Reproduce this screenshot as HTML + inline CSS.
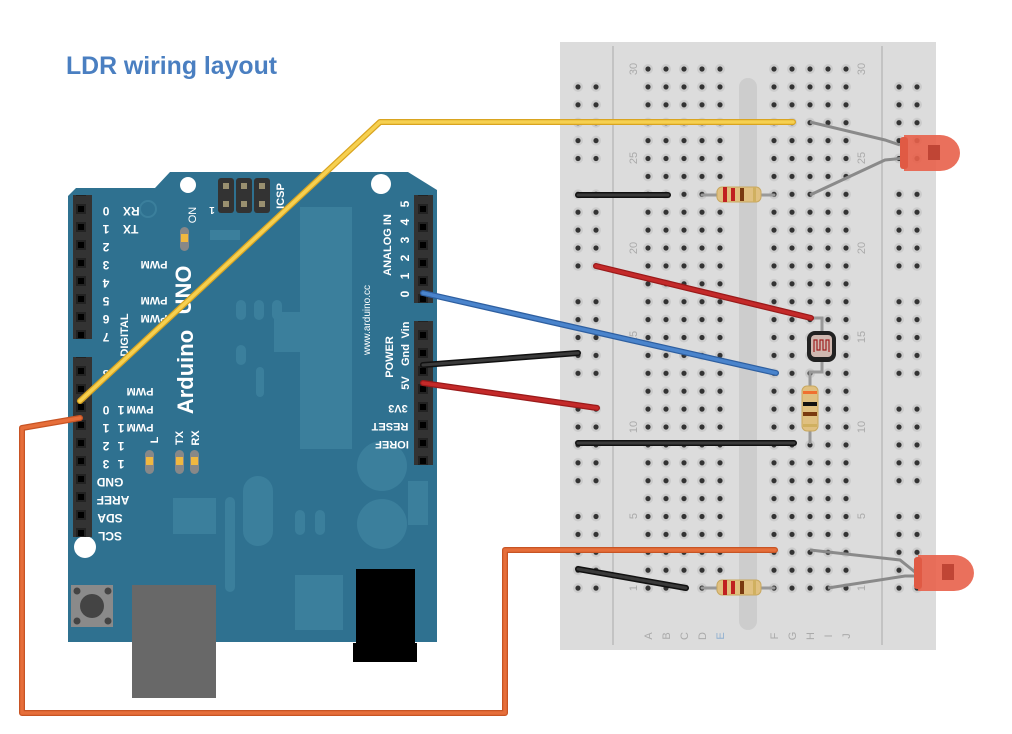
<!DOCTYPE html>
<html><head><meta charset="utf-8"><style>
html,body{margin:0;padding:0;background:#fff;}
svg{display:block;}
text{font-family:"Liberation Sans",Arial,sans-serif;}
</style></head><body>
<svg width="1012" height="734" viewBox="0 0 1012 734" xmlns="http://www.w3.org/2000/svg">
<defs>
<pattern id="hm" patternUnits="userSpaceOnUse" x="639" y="60.05" width="18" height="17.9">
 <circle cx="9" cy="8.95" r="5" fill="#cbcbcb"/><circle cx="9" cy="8.95" r="2.6" fill="#333"/>
</pattern>
<pattern id="hl" patternUnits="userSpaceOnUse" x="569" y="60.05" width="18" height="17.9">
 <circle cx="9" cy="8.95" r="5" fill="#cbcbcb"/><circle cx="9" cy="8.95" r="2.6" fill="#333"/>
</pattern>
<pattern id="hr" patternUnits="userSpaceOnUse" x="890" y="60.05" width="18" height="17.9">
 <circle cx="9" cy="8.95" r="5" fill="#cbcbcb"/><circle cx="9" cy="8.95" r="2.6" fill="#333"/>
</pattern>
<pattern id="pin" patternUnits="userSpaceOnUse" x="0" y="2" width="18" height="18">
 <rect x="0" y="0" width="18" height="18" fill="#333"/><rect x="4" y="4" width="10" height="10" fill="#222"/><rect x="6" y="6" width="6" height="6" fill="#000"/>
</pattern>
</defs>

<text x="66" y="74" font-size="25" font-weight="bold" fill="#4a7fc1" textLength="211" lengthAdjust="spacingAndGlyphs">LDR wiring layout</text>

<!-- Breadboard -->
<rect x="560" y="42" width="376" height="608" fill="#dcdcdc"/>
<line x1="613" y1="46" x2="613" y2="645" stroke="#aaa" stroke-width="1"/>
<line x1="882" y1="46" x2="882" y2="645" stroke="#aaa" stroke-width="1"/>
<rect x="739" y="78" width="18" height="552" rx="9" fill="#cdcdcd"/>
<rect x="639" y="60" width="90" height="537" fill="url(#hm)"/>
<rect x="765" y="60" width="90" height="537" fill="url(#hm)"/>
<g>
 <rect x="569" y="78" width="36" height="89.5" fill="url(#hl)"/>
 <rect x="569" y="185.4" width="36" height="89.5" fill="url(#hl)"/>
 <rect x="569" y="292.8" width="36" height="89.5" fill="url(#hl)"/>
 <rect x="569" y="400.2" width="36" height="89.5" fill="url(#hl)"/>
 <rect x="569" y="507.6" width="36" height="89.5" fill="url(#hl)"/>
 <rect x="890" y="78" width="36" height="89.5" fill="url(#hr)"/>
 <rect x="890" y="185.4" width="36" height="89.5" fill="url(#hr)"/>
 <rect x="890" y="292.8" width="36" height="89.5" fill="url(#hr)"/>
 <rect x="890" y="400.2" width="36" height="89.5" fill="url(#hr)"/>
 <rect x="890" y="507.6" width="36" height="89.5" fill="url(#hr)"/>
</g>
<g font-size="11" fill="#aaa">
 <text transform="translate(637,69) rotate(-90)" text-anchor="middle">30</text>
 <text transform="translate(637,158) rotate(-90)" text-anchor="middle">25</text>
 <text transform="translate(637,248) rotate(-90)" text-anchor="middle">20</text>
 <text transform="translate(637,337) rotate(-90)" text-anchor="middle">15</text>
 <text transform="translate(637,427) rotate(-90)" text-anchor="middle">10</text>
 <text transform="translate(637,516) rotate(-90)" text-anchor="middle">5</text>
 <text transform="translate(637,588) rotate(-90)" text-anchor="middle">1</text>
 <text transform="translate(865,69) rotate(-90)" text-anchor="middle">30</text>
 <text transform="translate(865,158) rotate(-90)" text-anchor="middle">25</text>
 <text transform="translate(865,248) rotate(-90)" text-anchor="middle">20</text>
 <text transform="translate(865,337) rotate(-90)" text-anchor="middle">15</text>
 <text transform="translate(865,427) rotate(-90)" text-anchor="middle">10</text>
 <text transform="translate(865,516) rotate(-90)" text-anchor="middle">5</text>
 <text transform="translate(865,588) rotate(-90)" text-anchor="middle">1</text>
</g>
<g font-size="11" fill="#aaa">
 <text transform="translate(652,636) rotate(-90)" text-anchor="middle">A</text>
 <text transform="translate(670,636) rotate(-90)" text-anchor="middle">B</text>
 <text transform="translate(688,636) rotate(-90)" text-anchor="middle">C</text>
 <text transform="translate(706,636) rotate(-90)" text-anchor="middle">D</text>
 <text transform="translate(724,636) rotate(-90)" text-anchor="middle" fill="#8fb0d0">E</text>
 <text transform="translate(778,636) rotate(-90)" text-anchor="middle">F</text>
 <text transform="translate(796,636) rotate(-90)" text-anchor="middle">G</text>
 <text transform="translate(814,636) rotate(-90)" text-anchor="middle">H</text>
 <text transform="translate(832,636) rotate(-90)" text-anchor="middle">I</text>
 <text transform="translate(850,636) rotate(-90)" text-anchor="middle">J</text>
</g>

<!-- Arduino -->
<polygon points="68,196 76,188 155,188 170,172 408,172 437,190 437,642 68,642" fill="#2f7190"/>
<g fill="#3b7f9c">
 <rect x="300" y="207" width="52" height="242"/>
 <rect x="274" y="312" width="36" height="40"/>
 <rect x="173" y="498" width="43" height="36"/>
 <rect x="256" y="367" width="8" height="30" rx="4"/>
 <rect x="225" y="497" width="10" height="95" rx="5"/>
 <rect x="243" y="476" width="30" height="70" rx="15"/>
 <rect x="295" y="510" width="10" height="25" rx="5"/>
 <rect x="315" y="510" width="10" height="25" rx="5"/>
 <rect x="295" y="575" width="48" height="55"/>
 <ellipse cx="382" cy="466" rx="25" ry="25"/>
 <ellipse cx="382" cy="524" rx="25" ry="25"/>
 <rect x="408" y="481" width="20" height="44"/>
 <rect x="210" y="230" width="30" height="10"/>
 <rect x="236" y="300" width="10" height="20" rx="5"/>
 <rect x="236" y="345" width="10" height="20" rx="5"/>
 <rect x="254" y="300" width="10" height="20" rx="5"/>
 <rect x="272" y="300" width="10" height="20" rx="5"/>
</g>
<circle cx="148" cy="209" r="8" fill="none" stroke="#3b7f9c" stroke-width="2"/>
<circle cx="188" cy="185" r="8" fill="#fff"/>
<circle cx="381" cy="184" r="10" fill="#fff"/>
<circle cx="85" cy="547" r="11" fill="#fff"/>
<!-- ICSP -->
<g>
 <rect x="218" y="178" width="16" height="35" rx="3" fill="#333"/>
 <rect x="236" y="178" width="16" height="35" rx="3" fill="#333"/>
 <rect x="254" y="178" width="16" height="35" rx="3" fill="#333"/>
 <g fill="#9a9070"><rect x="223" y="183" width="6" height="6"/><rect x="241" y="183" width="6" height="6"/><rect x="259" y="183" width="6" height="6"/><rect x="223" y="201" width="6" height="6"/><rect x="241" y="201" width="6" height="6"/><rect x="259" y="201" width="6" height="6"/></g>
</g>
<!-- headers -->
<rect x="73" y="195" width="19" height="144" fill="url(#pin)"/>
<rect x="73" y="357" width="19" height="180" fill="url(#pin)"/>
<rect x="414" y="195" width="19" height="108" fill="url(#pin)"/>
<rect x="414" y="321" width="19" height="144" fill="url(#pin)"/>
<!-- LEDs small -->
<g>
 <rect x="180" y="227" width="9" height="24" rx="4.5" fill="#888"/><rect x="181" y="234" width="7" height="8" fill="#f0b840"/>
 <rect x="145" y="450" width="9" height="24" rx="4.5" fill="#888"/><rect x="146" y="457" width="7" height="8" fill="#f0b840"/>
 <rect x="175" y="450" width="9" height="24" rx="4.5" fill="#888"/><rect x="176" y="457" width="7" height="8" fill="#f0b840"/>
 <rect x="190" y="450" width="9" height="24" rx="4.5" fill="#888"/><rect x="191" y="457" width="7" height="8" fill="#f0b840"/>
</g>
<!-- labels on board -->
<g fill="#fff" font-size="12" font-weight="bold">
  <text transform="translate(106,203) rotate(180)" text-anchor="middle" dy="-4">0</text>
  <text transform="translate(106,221) rotate(180)" text-anchor="middle" dy="-4">1</text>
  <text transform="translate(106,239) rotate(180)" text-anchor="middle" dy="-4">2</text>
  <text transform="translate(106,257) rotate(180)" text-anchor="middle" dy="-4">3</text>
  <text transform="translate(106,275) rotate(180)" text-anchor="middle" dy="-4">4</text>
  <text transform="translate(106,293) rotate(180)" text-anchor="middle" dy="-4">5</text>
  <text transform="translate(106,311) rotate(180)" text-anchor="middle" dy="-4">6</text>
  <text transform="translate(106,329) rotate(180)" text-anchor="middle" dy="-4">7</text>
  <text transform="translate(106,366) rotate(180)" text-anchor="middle" dy="-4">8</text>
  <text transform="translate(106,402) rotate(180)" text-anchor="middle" dy="-4">0</text>
  <text transform="translate(106,420) rotate(180)" text-anchor="middle" dy="-4">1</text>
  <text transform="translate(106,438) rotate(180)" text-anchor="middle" dy="-4">2</text>
  <text transform="translate(106,456) rotate(180)" text-anchor="middle" dy="-4">3</text>
  <text transform="translate(121,402) rotate(180)" text-anchor="middle" dy="-4">1</text>
  <text transform="translate(121,420) rotate(180)" text-anchor="middle" dy="-4">1</text>
  <text transform="translate(121,438) rotate(180)" text-anchor="middle" dy="-4">1</text>
  <text transform="translate(121,456) rotate(180)" text-anchor="middle" dy="-4">1</text>
  <text transform="translate(123,203) rotate(180)" dy="-4" text-anchor="end">RX</text>
  <text transform="translate(123,221) rotate(180)" dy="-4" text-anchor="end">TX</text>
  <text transform="translate(154,257) rotate(180)" dy="-4" text-anchor="middle" font-size="11">PWM</text>
  <text transform="translate(154,293) rotate(180)" dy="-4" text-anchor="middle" font-size="11">PWM</text>
  <text transform="translate(154,311) rotate(180)" dy="-4" text-anchor="middle" font-size="11">PWM</text>
  <text transform="translate(140,384) rotate(180)" dy="-4" text-anchor="middle" font-size="11">PWM</text>
  <text transform="translate(140,402) rotate(180)" dy="-4" text-anchor="middle" font-size="11">PWM</text>
  <text transform="translate(140,420) rotate(180)" dy="-4" text-anchor="middle" font-size="11">PWM</text>
  <text transform="translate(110,474) rotate(180)" dy="-4" text-anchor="middle">GND</text>
  <text transform="translate(113,492) rotate(180)" dy="-4" text-anchor="middle">AREF</text>
  <text transform="translate(110,510) rotate(180)" dy="-4" text-anchor="middle">SDA</text>
  <text transform="translate(110,528) rotate(180)" dy="-4" text-anchor="middle">SCL</text>
  <text transform="translate(124,335) rotate(-90)" text-anchor="middle" dy="4" font-size="11">DIGITAL</text>
  <text transform="translate(183,290) rotate(-90)" text-anchor="middle" dy="8" font-size="22">UNO</text>
  <text transform="translate(185,372) rotate(-90)" text-anchor="middle" dy="8" font-size="22">Arduino</text>
  <text transform="translate(192,215) rotate(-90)" text-anchor="middle" dy="4" font-size="11" font-weight="normal">ON</text>
  <text transform="translate(154,440) rotate(-90)" text-anchor="middle" dy="4" font-size="11">L</text>
  <text transform="translate(179,438) rotate(-90)" text-anchor="middle" dy="4" font-size="11">TX</text>
  <text transform="translate(195,438) rotate(-90)" text-anchor="middle" dy="4" font-size="11">RX</text>
  <text transform="translate(280,196) rotate(-90)" text-anchor="middle" dy="4" font-size="11">ICSP</text>
  <text transform="translate(212,203) rotate(180)" text-anchor="middle" dy="-4" font-size="10">1</text>
  <text transform="translate(366,320) rotate(-90)" text-anchor="middle" dy="4" font-size="10" font-weight="normal">www.arduino.cc</text>
  <text transform="translate(387,245) rotate(-90)" text-anchor="middle" dy="4" font-size="11">ANALOG IN</text>
  <text transform="translate(405,204) rotate(-90)" text-anchor="middle" dy="4">5</text>
  <text transform="translate(405,222) rotate(-90)" text-anchor="middle" dy="4">4</text>
  <text transform="translate(405,240) rotate(-90)" text-anchor="middle" dy="4">3</text>
  <text transform="translate(405,258) rotate(-90)" text-anchor="middle" dy="4">2</text>
  <text transform="translate(405,276) rotate(-90)" text-anchor="middle" dy="4">1</text>
  <text transform="translate(405,294) rotate(-90)" text-anchor="middle" dy="4">0</text>
  <text transform="translate(389,357) rotate(-90)" text-anchor="middle" dy="4" font-size="11">POWER</text>
  <text transform="translate(405,330) rotate(-90)" text-anchor="middle" dy="4" font-size="11">Vin</text>
  <text transform="translate(405,355) rotate(-90)" text-anchor="middle" dy="4" font-size="11">Gnd</text>
  <text transform="translate(405,383) rotate(-90)" text-anchor="middle" dy="4" font-size="11">5V</text>
  <text transform="translate(398,401) rotate(180)" text-anchor="middle" dy="-4" font-size="11">3V3</text>
  <text transform="translate(390,419) rotate(180)" text-anchor="middle" dy="-4" font-size="11">RESET</text>
  <text transform="translate(392,437) rotate(180)" text-anchor="middle" dy="-4" font-size="11">IOREF</text>
</g>
<!-- reset button, usb, jack -->
<rect x="71" y="585" width="42" height="42" fill="#8a8a8a"/>
<circle cx="92" cy="606" r="12" fill="#444"/>
<g fill="#444"><circle cx="77" cy="591" r="3.5"/><circle cx="108" cy="591" r="3.5"/><circle cx="77" cy="621" r="3.5"/><circle cx="108" cy="621" r="3.5"/></g>
<rect x="132" y="585" width="84" height="113" fill="#686868"/>
<rect x="356" y="569" width="59" height="80" fill="#000"/>
<rect x="353" y="643" width="64" height="19" fill="#000"/>

<!-- Breadboard components -->
<line x1="702" y1="195" x2="774" y2="195" stroke="#999" stroke-width="3" stroke-linecap="round"/>
<rect x="717" y="187" width="44" height="15" rx="5" fill="#e0c080" stroke="#c8a860"/>
<rect x="723" y="187" width="4" height="15" fill="#c02020"/><rect x="731" y="188" width="4" height="13" fill="#c02020"/><rect x="740" y="188" width="4" height="13" fill="#7a3a10"/><rect x="753" y="187" width="3" height="15" fill="#d0b060"/>
<line x1="702" y1="588" x2="774" y2="588" stroke="#999" stroke-width="3" stroke-linecap="round"/>
<rect x="717" y="580" width="44" height="15" rx="5" fill="#e0c080" stroke="#c8a860"/>
<rect x="723" y="580" width="4" height="15" fill="#c02020"/><rect x="731" y="581" width="4" height="13" fill="#c02020"/><rect x="740" y="581" width="4" height="13" fill="#7a3a10"/><rect x="753" y="580" width="3" height="15" fill="#d0b060"/>
<polyline points="822,360 822,372 810,372 810,444" fill="none" stroke="#999" stroke-width="3"/>
<rect x="802" y="386" width="16" height="45" rx="5" fill="#e0c080" stroke="#c8a860"/>
<rect x="803" y="391" width="14" height="3" fill="#f07030"/><rect x="803" y="402" width="14" height="4" fill="#111"/><rect x="803" y="412" width="14" height="4" fill="#7a3a10"/><rect x="803" y="424" width="14" height="3" fill="#d0b060"/>
<polyline points="811,318 822,318 822,333" fill="none" stroke="#999" stroke-width="3"/>
<rect x="807" y="331" width="29" height="31" rx="8" fill="#222"/>
<rect x="811" y="335" width="21" height="22" rx="4" fill="#d0b8b0"/>
<path d="M814,352 v-12 h3 v10 h3 v-10 h3 v10 h3 v-10 h3 v12" fill="none" stroke="#a02020" stroke-width="1.2"/>
<polyline points="810,122 885,140 900,145" fill="none" stroke="#8a8a8a" stroke-width="3"/>
<polyline points="810,195 885,160 905,158" fill="none" stroke="#8a8a8a" stroke-width="3"/>
<polyline points="810,550 900,560 915,572" fill="none" stroke="#8a8a8a" stroke-width="3"/>
<polyline points="828,588 905,576 918,576" fill="none" stroke="#8a8a8a" stroke-width="3"/>
<g>
 <path d="M904,135 h36 a20,18 0 0 1 0,36 h-36 z" fill="#e8604a" opacity="0.9"/>
 <rect x="900" y="137" width="8" height="32" rx="3" fill="#e05a44"/>
 <polygon points="928,145 940,145 940,160 928,160" fill="#c04535"/>
</g>
<g>
 <path d="M918,555 h36 a20,18 0 0 1 0,36 h-36 z" fill="#e8604a" opacity="0.9"/>
 <rect x="914" y="557" width="8" height="32" rx="3" fill="#e05a44"/>
 <polygon points="942,564 954,564 954,580 942,580" fill="#c04535"/>
</g>

<!-- wires -->
<g fill="none" stroke-linecap="round" stroke-linejoin="round">
 <line x1="578" y1="195" x2="668" y2="195" stroke="#111" stroke-width="6"/>
 <line x1="578" y1="195" x2="668" y2="195" stroke="#3a3a3a" stroke-width="3"/>
 <line x1="578" y1="443" x2="794" y2="443" stroke="#111" stroke-width="6"/>
 <line x1="578" y1="443" x2="794" y2="443" stroke="#3a3a3a" stroke-width="3"/>
 <line x1="578" y1="569" x2="686" y2="588" stroke="#111" stroke-width="6"/>
 <line x1="578" y1="569" x2="686" y2="588" stroke="#3a3a3a" stroke-width="3"/>
 <line x1="596" y1="266" x2="811" y2="318" stroke="#9a1a1a" stroke-width="6"/>
 <line x1="596" y1="266" x2="811" y2="318" stroke="#c42a2a" stroke-width="3.5"/>
 <line x1="423" y1="365" x2="578" y2="353" stroke="#111" stroke-width="6"/>
 <line x1="423" y1="365" x2="578" y2="353" stroke="#3a3a3a" stroke-width="3"/>
 <line x1="423" y1="383" x2="597" y2="408" stroke="#9a1a1a" stroke-width="6"/>
 <line x1="423" y1="383" x2="597" y2="408" stroke="#c42a2a" stroke-width="3.5"/>
 <line x1="423" y1="293" x2="776" y2="373" stroke="#2e5fa0" stroke-width="6"/>
 <line x1="423" y1="293" x2="776" y2="373" stroke="#4a84cc" stroke-width="3.5"/>
 <polyline points="80,401 380,122 793,122" stroke="#d9a420" stroke-width="6"/>
 <polyline points="80,401 380,122 793,122" stroke="#f6d050" stroke-width="3.5"/>
 <polyline points="80,418 22,428 22,713 505,713 505,550 775,550" stroke="#c85424" stroke-width="6"/>
 <polyline points="80,418 22,428 22,713 505,713 505,550 775,550" stroke="#e66e3a" stroke-width="3.5"/>
</g>
</svg>
</body></html>
